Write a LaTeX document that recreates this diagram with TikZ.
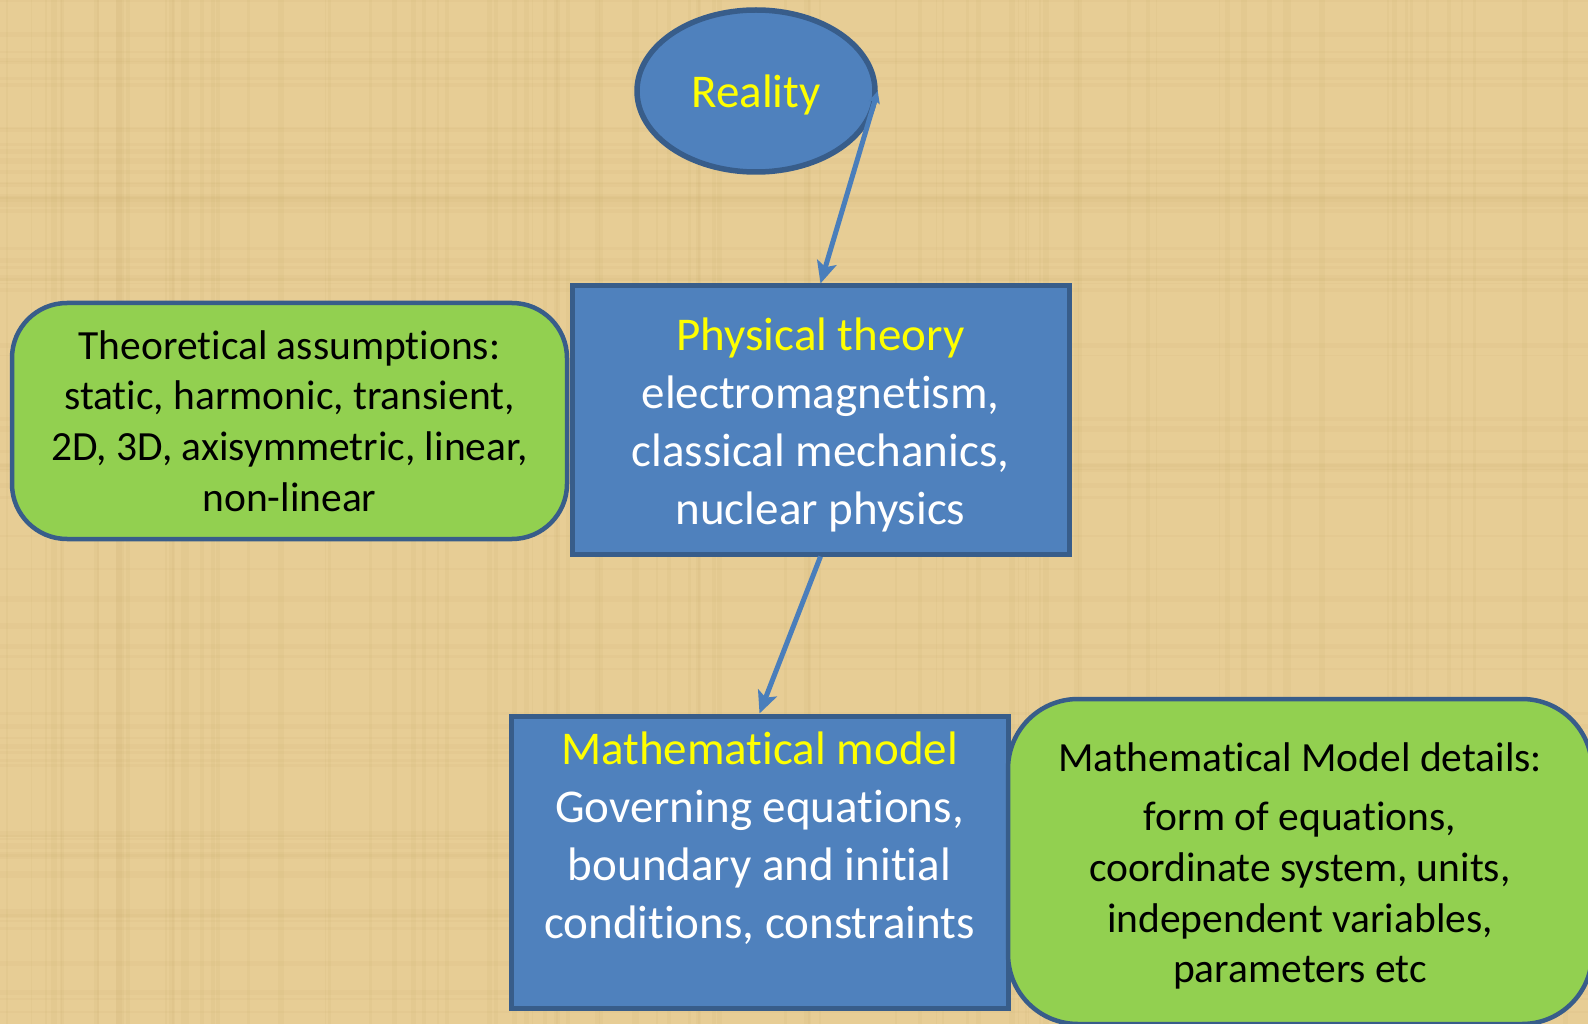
\documentclass[tikz,border=0pt]{standalone}
\usepackage{fontspec}
\setmainfont{Carlito}[Ligatures={NoCommon,NoRare,NoContextual},RawFeature={-liga;-clig;-calt;-dlig;-ccmp;-rlig}]
\usetikzlibrary{arrows.meta,shapes.geometric}
\definecolor{bg}{HTML}{E7CD95}
\definecolor{bgdark}{HTML}{C9AA6A}
\definecolor{boxblue}{HTML}{4F81BD}
\definecolor{edgeblue}{HTML}{385D8A}
\definecolor{boxgreen}{HTML}{92D050}
\definecolor{arrowblue}{HTML}{4A7EBB}
\definecolor{ylw}{HTML}{FFFF00}
\begin{document}
\begin{tikzpicture}[x=1pt,y=-1pt,
 bluebox/.style={draw=edgeblue, fill=boxblue, line width=5pt, rectangle, inner sep=0pt},
 greenbox/.style={draw=edgeblue, fill=boxgreen, line width=4.5pt, rectangle, inner sep=0pt},
 bigtext/.style={font=\fontsize{47}{58}\selectfont, align=center, text=white},
 smalltext/.style={font=\fontsize{41.5}{50.6}\selectfont, align=center, text=black},
 conn/.style={draw=arrowblue, line width=5pt, -{Stealth[length=22pt,width=20pt,inset=5pt]}}
]
\useasboundingbox (0,0) rectangle (1588,1024);
\fill[bg] (0,0) rectangle (1588,1024);
% faint papyrus texture
\pgfmathsetseed{7}
\foreach \i in {1,...,90}{
  \pgfmathsetmacro{\xx}{rnd*1588}
  \pgfmathsetmacro{\ww}{1+rnd*5}
  \fill[bgdark, opacity=0.10] (\xx,0) rectangle ++(\ww,1024);
}
\foreach \i in {1,...,70}{
  \pgfmathsetmacro{\yy}{rnd*1024}
  \pgfmathsetmacro{\hh}{1+rnd*5}
  \fill[bgdark, opacity=0.09] (0,\yy) rectangle ++(1588,\hh);
}
\begin{scope}
\clip (0,0) rectangle (1588,1024);
% Reality
\node[ellipse, draw=edgeblue, fill=boxblue, line width=5.5pt, minimum width=238pt, minimum height=162pt, inner sep=0pt] (reality) at (756,91) {};
\node[font=\fontsize{47}{58}\selectfont, text=ylw, inner sep=0pt] (realitytext) at (756,95) {Reality};
% Physical theory
\node[bluebox, minimum width=497pt, minimum height=268pt] (phys) at (820.5,420) {};
\node[bigtext, inner sep=0pt] (phystext) at (820.5,425)
  {\textcolor{ylw}{Physical theory}\\electromagnetism,\\classical mechanics,\\nuclear physics};
% Theoretical assumptions
\node[greenbox, rounded corners=55pt, minimum width=555pt, minimum height=236pt, smalltext] (assump) at (289.5,421)
  {Theoretical assumptions:\\static, harmonic, transient,\\2D, 3D, axisymmetric, linear,\\non-linear};
% Mathematical model
\node[bluebox, minimum width=497pt, minimum height=292pt] (mm) at (759.5,862) {};
\node[bigtext, inner sep=0pt] (mmtext) at (759.5,838)
  {\textcolor{ylw}{Mathematical model}\\Governing equations,\\boundary and initial\\conditions, constraints};
% Model details
\node[greenbox, rounded corners=70pt, minimum width=584pt, minimum height=325pt] (details) at (1300,861.5) {};
\node[smalltext, inner sep=0pt] (detailstext) at (1300,866)
  {Mathematical Model details:\\[9pt]form of equations,\\coordinate system, units,\\independent variables,\\parameters etc};
\end{scope}
% connectors
\draw[conn, {Stealth[length=12pt,width=11pt,inset=2pt]}-{Stealth[length=22pt,width=20pt,inset=5pt]}] (reality.east) -- (phys.north);
\draw[conn] (phys.south) -- (mm.north);
\end{tikzpicture}
\end{document}
